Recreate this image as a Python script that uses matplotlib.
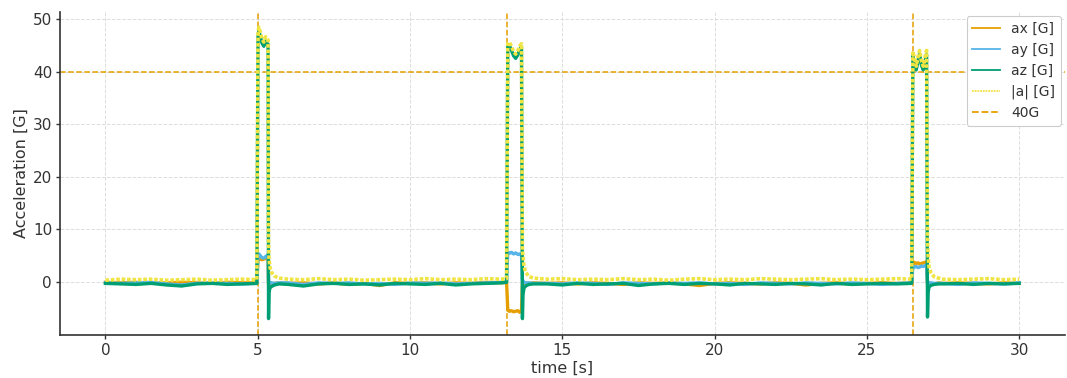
import matplotlib
matplotlib.use("Agg")
import matplotlib.pyplot as plt

# ---- data ----
t = [0.0, 0.5, 1.0, 1.5, 2.0, 2.5, 3.0, 3.5, 4.0, 4.5, 4.97,
     5.01, 5.04, 5.08, 5.14, 5.2, 5.26, 5.31, 5.34, 5.355, 5.37, 5.4, 5.45, 5.55, 5.7,
     6.0, 6.5, 7.0, 7.5, 8.0, 8.5, 9.0, 9.5, 10.0, 10.5, 11.0, 11.5, 12.0, 12.5, 13.0, 13.17,
     13.21, 13.26, 13.33, 13.4, 13.47, 13.54, 13.6, 13.66, 13.69, 13.71, 13.74, 13.8, 13.9, 14.05,
     14.5, 15.0, 15.5, 16.0, 16.5, 17.0, 17.5, 18.0, 18.5, 19.0, 19.5, 20.0, 20.5, 21.0, 21.5,
     22.0, 22.5, 23.0, 23.5, 24.0, 24.5, 25.0, 25.5, 26.0, 26.47,
     26.51, 26.56, 26.62, 26.68, 26.73, 26.79, 26.85, 26.91, 26.96, 26.99, 27.01, 27.04, 27.1, 27.2, 27.35,
     27.5, 28.0, 28.5, 29.0, 29.5, 30.0]

a_mag = [0.3, 0.5, 0.4, 0.5, 0.3, 0.4, 0.5, 0.3, 0.4, 0.5, 0.4,
         47.6, 48.4, 47.6, 46.2, 45.6, 46.6, 46.2, 46.0, 8.0, 4.5, 2.8, 1.8, 1.1, 0.7,
         0.5, 0.4, 0.6, 0.4, 0.5, 0.3, 0.4, 0.5, 0.4, 0.6, 0.4, 0.5, 0.4, 0.6, 0.5, 0.6,
         45.3, 45.6, 44.8, 43.8, 43.3, 44.0, 44.8, 45.3, 6.0, 5.0, 3.0, 1.8, 1.0, 0.7,
         0.5, 0.6, 0.4, 0.5, 0.4, 0.6, 0.4, 0.5, 0.3, 0.5, 0.6, 0.4, 0.5, 0.4, 0.6,
         0.5, 0.4, 0.5, 0.6, 0.4, 0.5, 0.4, 0.5, 0.6, 0.5,
         43.8, 42.5, 41.0, 42.8, 44.0, 42.0, 41.0, 42.8, 44.0, 8.0, 5.0, 2.8, 1.8, 1.0, 0.7,
         0.5, 0.4, 0.5, 0.6, 0.4, 0.5]

az = [-0.3, -0.4, -0.5, -0.3, -0.6, -0.8, -0.4, -0.3, -0.5, -0.4, -0.3,
      46.8, 47.6, 46.8, 45.4, 44.8, 45.8, 45.3, 45.2, -7.0, -2.0, -1.2, -0.9, -0.6, -0.4,
      -0.5, -0.8, -0.4, -0.3, -0.5, -0.4, -0.6, -0.3, -0.4, -0.5, -0.3, -0.6, -0.4, -0.3, -0.2, -0.1,
      44.7, 45.0, 44.0, 43.0, 42.5, 43.2, 44.2, 44.7, -7.0, -2.5, -1.2, -0.8, -0.5, -0.4,
      -0.4, -0.6, -0.3, -0.5, -0.4, -0.3, -0.7, -0.4, -0.3, -0.5, -0.3, -0.4, -0.6, -0.3, -0.4,
      -0.5, -0.3, -0.4, -0.6, -0.3, -0.5, -0.4, -0.3, -0.4, -0.3,
      43.0, 41.6, 40.3, 42.0, 43.3, 41.2, 40.3, 42.0, 43.2, -6.7, -2.0, -1.0, -0.7, -0.5, -0.4,
      -0.4, -0.3, -0.5, -0.3, -0.4, -0.3]

ax_ = [-0.1, -0.2, -0.1, -0.3, -0.2, -0.1, -0.2, -0.3, -0.1, -0.2, -0.2,
       4.4, 4.5, 4.3, 4.2, 4.3, 4.5, 4.4, 4.6, -0.5, -0.3, -0.2, -0.4, -0.3, -0.2,
       -0.3, -0.2, -0.4, -0.2, -0.5, -0.3, -0.7, -0.2, -0.3, -0.2, -0.4, -0.2, -0.3, -0.1, -0.2, -0.1,
       -5.4, -5.6, -5.5, -5.7, -5.6, -5.5, -5.8, -5.5, -0.5, -0.3, -0.3, -0.2, -0.3, -0.2,
       -0.3, -0.2, -0.4, -0.2, -0.3, -0.5, -0.2, -0.3, -0.2, -0.4, -0.7, -0.3, -0.2, -0.3, -0.4,
       -0.2, -0.3, -0.6, -0.3, -0.2, -0.4, -0.3, -0.2, -0.3, -0.2,
       3.6, 3.7, 3.5, 3.6, 3.4, 3.5, 3.6, 3.7, 3.8, -0.4, -0.3, -0.2, -0.3, -0.4, -0.2,
       -0.3, -0.2, -0.3, -0.4, -0.2, -0.3]

ay = [-0.2, -0.3, -0.2, -0.1, -0.4, -0.6, -0.3, -0.2, -0.3, -0.4, -0.3,
      5.0, 5.3, 5.0, 4.6, 4.5, 4.8, 5.0, 5.2, -0.2, -0.4, -0.1, -0.2, -0.3, -0.2,
      -0.2, -0.5, -0.2, -0.3, -0.2, -0.4, -0.3, -0.5, -0.2, -0.3, -0.2, -0.4, -0.3, -0.2, -0.1, 0.0,
      5.6, 5.4, 5.6, 5.3, 5.5, 5.2, 5.3, 5.0, 0.3, 0.2, -0.1, -0.2, -0.2, -0.3,
      -0.3, -0.4, -0.2, -0.3, -0.5, -0.2, -0.3, -0.4, -0.2, -0.3, -0.2, -0.4, -0.3, -0.5, -0.2,
      -0.3, -0.4, -0.2, -0.3, -0.4, -0.2, -0.3, -0.5, -0.3, -0.2,
      3.0, 2.8, 2.9, 2.7, 2.8, 3.0, 2.9, 3.1, 3.2, -0.2, -0.1, -0.3, -0.2, -0.3, -0.3,
      -0.3, -0.5, -0.2, -0.3, -0.4, -0.2]

event_times = [5.0, 13.2, 26.5]
threshold = 40
x_ticks = [0, 5, 10, 15, 20, 25, 30]
y_ticks = [0, 10, 20, 30, 40, 50]

# ---- style ----
C_AX, C_AY, C_AZ, C_MAG = "#E69F00", "#56B4E9", "#009E73", "#F0E442"
TXT = "#333333"

fig = plt.figure(figsize=(10.67, 3.78), dpi=100)
ax = fig.add_axes([0.056, 0.114, 0.942, 0.854])

ax.plot(t, ax_, color=C_AX, lw=2.4, label="ax [G]", zorder=3)
ax.plot(t, ay, color=C_AY, lw=2.4, label="ay [G]", zorder=3)
ax.plot(t, az, color=C_AZ, lw=2.4, label="az [G]", zorder=3)
ax.plot(t, a_mag, color=C_MAG, lw=2.6, ls=(0, (1, 0.5)), label="|a| [G]", zorder=4)
ax.axhline(threshold, color=C_AX, lw=1.1, ls="--", label="40G", zorder=2)
for et in event_times:
    ax.axvline(et, color=C_AX, lw=1.1, ls="--", zorder=2)

ax.set_xlim(-1.5, 31.5)
ax.set_ylim(-10.1, 51.3)
ax.set_xticks(x_ticks)
ax.set_yticks(y_ticks)
ax.grid(True, color="#dddddd", ls="--", lw=0.7)
ax.set_axisbelow(True)
for s in ["top", "right"]:
    ax.spines[s].set_visible(False)
for s in ["left", "bottom"]:
    ax.spines[s].set_color(TXT)
    ax.spines[s].set_linewidth(1.2)
ax.tick_params(colors=TXT, labelsize=11, length=3, width=1, pad=2.5)
ax.set_xlabel("time [s]", fontsize=11.5, color=TXT, labelpad=2)
ax.set_ylabel("Acceleration [G]", fontsize=11.5, color=TXT, labelpad=3)

leg = ax.legend(loc="upper right", fontsize=10, frameon=True, framealpha=1,
                edgecolor="#cccccc", labelcolor=TXT, borderaxespad=0.3,
                handlelength=2.0, labelspacing=0.5)
leg.get_frame().set_linewidth(0.8)
for line in leg.get_lines():
    line.set_linewidth(1.3)

fig.savefig("out.png", dpi=100)
